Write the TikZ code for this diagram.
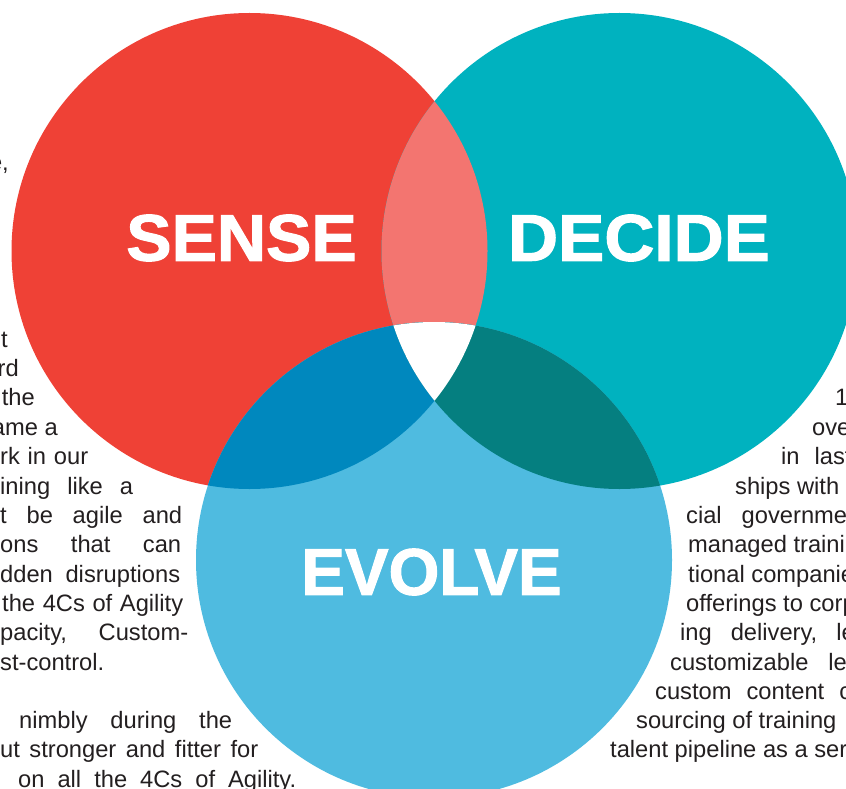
\documentclass[tikz,border=0pt]{standalone}
\usepackage{fontspec}
\setmainfont{Liberation Sans}
\newfontfamily\headfont[FakeBold=1.6]{Liberation Sans Bold}
\definecolor{cred}{HTML}{EF4136}
\definecolor{cteal}{HTML}{00B2BF}
\definecolor{cblue}{HTML}{4FBBE0}
\definecolor{cpink}{HTML}{F37570}
\definecolor{cdblue}{HTML}{0088BE}
\definecolor{cdteal}{HTML}{057F80}
\definecolor{txt}{HTML}{231F20}
\begin{document}
\begin{tikzpicture}[x=1pt,y=-1pt,
  body/.style={font=\fontsize{23.7}{28}\selectfont, text=txt, inner sep=0pt},
  bl/.style={body, anchor=base west},
  br/.style={body, anchor=base east},
  head/.style={font=\fontsize{66}{66}\headfont, text=white, inner sep=0pt}]
\clip (0,0) rectangle (846,789);
\fill[white] (0,0) rectangle (846,789);
% left column text
\node[br] (l0) at (9,171) {e,};
\node[br] (l1) at (8,347) {t};
\node[br] (l2) at (19,376) {rd};
\node[br] (l3) at (35,405) {the};
\node[br] (l4) at (58,435) {ame a};
\node[bl] (l5) at (0,464) {\makebox[88pt][s]{rk in our}};
\node[bl] (l6) at (0,494) {\makebox[133pt][s]{ining like a}};
\node[bl] (l7) at (0,523) {\makebox[182pt][s]{t be agile and}};
\node[bl] (l8) at (0,552) {\makebox[181pt][s]{ons that can}};
\node[bl] (l9) at (0,582) {\makebox[180pt][s]{dden disruptions}};
\node[bl] (l10) at (2,611) {\makebox[181pt][s]{the 4Cs of Agility}};
\node[bl] (l11) at (0,640) {\makebox[188pt][s]{pacity, Custom-}};
\node[bl] (l12) at (0,670) {st-control.};
\node[bl] (l13) at (19,728) {\makebox[213pt][s]{nimbly during the}};
\node[bl] (l14) at (0,757) {\makebox[258pt][s]{ut stronger and fitter for}};
\node[bl] (l15) at (18,787) {\makebox[278pt][s]{on all the 4Cs of Agility.}};
% right column text
\node[bl] (r1) at (835,405) {1};
\node[bl] (r2) at (812,435) {over};
\node[bl] (r3) at (781,464) {in\hspace{15pt}last};
\node[bl] (r4) at (735,494) {ships with};
\node[bl] (r5) at (686,523) {cial\hspace{20pt}government};
\node[bl] (r6) at (688,552) {managed training};
\node[bl] (r7) at (688,582) {tional companies};
\node[bl] (r8) at (686,611) {offerings to corporate};
\node[bl] (r9) at (680,640) {ing\hspace{19pt}delivery,\hspace{19pt}learning};
\node[bl] (r10) at (670,670) {customizable\hspace{20pt}learning};
\node[bl] (r11) at (655,699) {custom\hspace{15pt}content\hspace{15pt}creation};
\node[bl] (r12) at (636,728) {sourcing of training};
\node[bl] (r13) at (610,757) {talent pipeline as a service};
% circles
\fill[cred] (249.5,251) circle[radius=238pt];
\fill[cteal] (619.5,251) circle[radius=238pt];
\fill[cblue] (434,560) circle[radius=238pt];
\begin{scope}
  \clip (249.5,251) circle[radius=238pt];
  \fill[cpink] (619.5,251) circle[radius=238pt];
  \fill[cdblue] (434,560) circle[radius=238pt];
\end{scope}
\begin{scope}
  \clip (619.5,251) circle[radius=238pt];
  \fill[cdteal] (434,560) circle[radius=238pt];
  \clip (249.5,251) circle[radius=238pt];
  \fill[white] (434,560) circle[radius=238pt];
\end{scope}
% headlines
\node[head, xscale=1.03] (sense) at (241.5,238) {SENSE};
\node[head, xscale=1.05] (decide) at (639,238) {DECIDE};
\node[head, xscale=0.99] (evolve) at (431.5,572) {EVOLVE};
\end{tikzpicture}
\end{document}
